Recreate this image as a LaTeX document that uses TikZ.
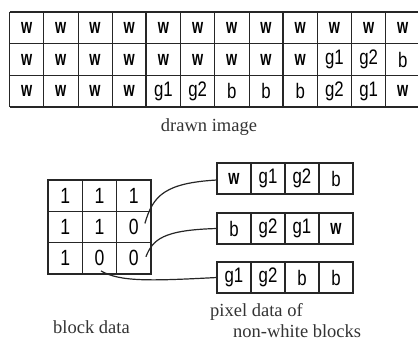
\documentclass[tikz,border=0pt]{standalone}
\usepackage{fontspec}
\usepackage{graphicx}
\setmainfont{Liberation Serif}
\newfontfamily\cellfont[FakeStretch=0.8]{Liberation Sans}
\newcommand\ww{{\fontsize{21}{21}\selectfont\bfseries\scalebox{0.85}[1]{w}}}
\begin{document}
\begin{tikzpicture}[x=1pt,y=-1pt,
  cellbase/.style={draw=black!85, inner sep=0pt, outer sep=0pt, anchor=north west, text=black},
  topcell/.style={cellbase, line width=0.7pt, minimum width=34.2pt, minimum height=31.5pt, font=\cellfont\fontsize{21}{21}\selectfont},
  blkcell/.style={cellbase, line width=1.2pt, minimum width=34.3pt, minimum height=31.3pt, font=\cellfont\fontsize{22}{22}\selectfont},
  pixcell/.style={cellbase, line width=1.1pt, minimum width=34pt, minimum height=31pt, font=\cellfont\fontsize{21}{21}\selectfont},
  thickrule/.style={line width=1.8pt, draw=black!85},
  midrule/.style={line width=1.2pt, draw=black!85},
  link/.style={line width=1.2pt, draw=black!85},
  lbl/.style={font=\fontsize{18.5}{18.5}\selectfont, text=black!80, inner sep=0pt}]
\useasboundingbox (0,0) rectangle (418,342);
% top grid
\foreach \t [count=\i from 0] in {\ww,\ww,\ww,\ww,\ww,\ww,\ww,\ww,\ww,\ww,\ww,\ww}
  \node[topcell] (t1-\i) at ({9.5+\i*34.2},12.3) {\t};
\foreach \t [count=\i from 0] in {\ww,\ww,\ww,\ww,\ww,\ww,\ww,\ww,\ww,g1,g2,b}
  \node[topcell] (t2-\i) at ({9.5+\i*34.2},43.8) {\t};
\foreach \t [count=\i from 0] in {\ww,\ww,\ww,\ww,g1,g2,b,b,b,g2,g1,\ww}
  \node[topcell] (t3-\i) at ({9.5+\i*34.2},75.3) {\t};
\draw[midrule] (t2-0.north west) -- (t2-11.north east);
\draw[midrule] (t3-0.north west) -- (t3-11.north east);
\draw[thickrule] (t1-0.north west) -- (t1-11.north east);
\draw[thickrule] (t3-0.south west) -- (t3-11.south east);
\draw[thickrule] (t1-0.north west) -- (t3-0.south west);
\draw[thickrule] (t1-4.north west) -- (t3-4.south west);
\draw[thickrule] (t1-8.north west) -- (t3-8.south west);
\draw[thickrule] (t1-11.north east) -- (t3-11.south east);
\node[lbl] (lbl-drawn) at (209,127) {drawn image};
% block data
\foreach \t [count=\i] in {1,1,1}
  \node[blkcell] (b1\i) at ({48+(\i-1)*34.3},180) {\t};
\foreach \t [count=\i] in {1,1,0}
  \node[blkcell] (b2\i) at ({48+(\i-1)*34.3},211.3) {\t};
\foreach \t [count=\i] in {1,0,0}
  \node[blkcell] (b3\i) at ({48+(\i-1)*34.3},242.6) {\t};
% pixel data
\foreach \t [count=\i from 0] in {\ww,g1,g2,b}
  \node[pixcell] (p1-\i) at ({217+\i*34},163) {\t};
\foreach \t [count=\i from 0] in {b,g2,g1,\ww}
  \node[pixcell] (p2-\i) at ({217+\i*34},213) {\t};
\foreach \t [count=\i from 0] in {g1,g2,b,b}
  \node[pixcell] (p3-\i) at ({217+\i*34},262) {\t};
% links
\draw[link] ([xshift=-6pt,yshift=3.5pt]b23.east) .. controls +(8,-28) and +(-52,3) .. ([yshift=-1.5pt]p1-0.west);
\draw[link] ([xshift=-5pt,yshift=1.5pt]b33.east) .. controls +(7,-17) and +(-55,1.5) .. (p2-0.west);
\draw[link] ([xshift=1.5pt,yshift=3pt]b32.south) .. controls +(19,11) and +(-67,3.5) .. (p3-0.west);
% labels
\node[lbl] (lbl-block) at (91.5,327) {block data};
\node[lbl, anchor=west] (lbl-pix1) at (210,311.5) {pixel data of};
\node[lbl, anchor=west] (lbl-pix2) at (233,331.5) {non-white blocks};
\end{tikzpicture}
\end{document}
